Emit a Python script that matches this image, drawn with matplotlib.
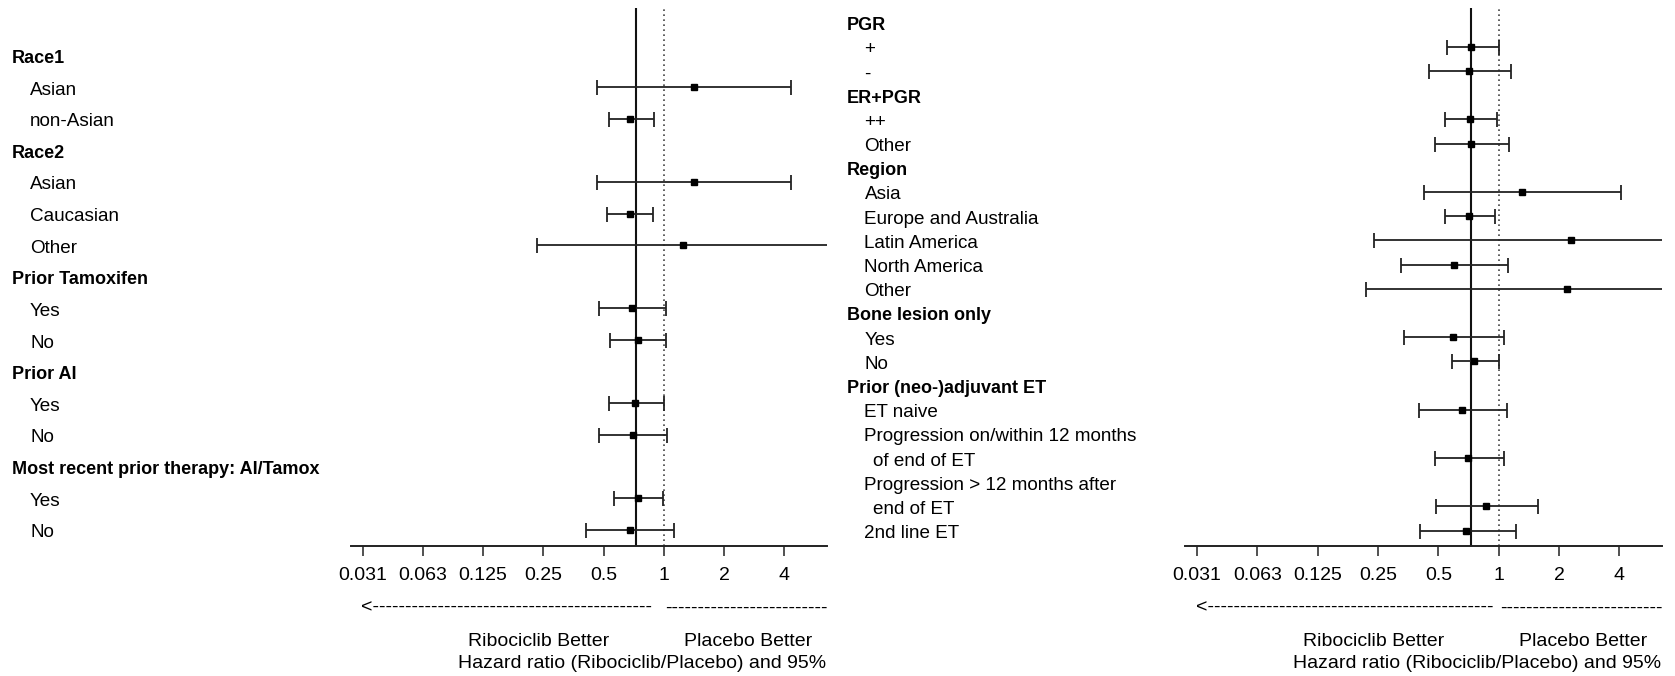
import numpy as np
import matplotlib
matplotlib.use("Agg")
import matplotlib.pyplot as plt
from matplotlib.transforms import blended_transform_factory, offset_copy

plt.rcParams['font.family'] = ['Liberation Sans', 'DejaVu Sans']

nan = np.nan

# ---------------- data ----------------
overall_hr = 0.725

left_labels = ["Race1", "Asian", "non-Asian", "Race2", "Asian", "Caucasian", "Other",
               "Prior Tamoxifen", "Yes", "No", "Prior AI", "Yes", "No",
               "Most recent prior therapy: AI/Tamox", "Yes", "No"]
left_level = [0, 1, 1, 0, 1, 1, 1, 0, 1, 1, 0, 1, 1, 0, 1, 1]
left_hr = [nan, 1.41, 0.681, nan, 1.41, 0.674, 1.25, nan, 0.692, 0.742, nan, 0.721, 0.700, nan, 0.742, 0.674]
left_lo = [nan, 0.465, 0.533, nan, 0.465, 0.523, 0.233, nan, 0.474, 0.539, nan, 0.533, 0.477, nan, 0.565, 0.408]
left_hi = [nan, 4.34, 0.891, nan, 4.34, 0.881, 8.0, nan, 1.02, 1.02, nan, 1.00, 1.04, nan, 0.99, 1.12]

right_labels = ["PGR", "+", "-", "ER+PGR", "++", "Other", "Region", "Asia",
                "Europe and Australia", "Latin America", "North America", "Other",
                "Bone lesion only", "Yes", "No", "Prior (neo-)adjuvant ET", "ET naive",
                "Progression on/within 12 months", "of end of ET",
                "Progression > 12 months after", "end of ET", "2nd line ET"]
right_level = [0, 1, 1, 0, 1, 1, 0, 1, 1, 1, 1, 1, 0, 1, 1, 0, 1, 1, 2, 1, 2, 1]
right_hr = [nan, 0.730, 0.713, nan, 0.721, 0.730, nan, 1.30, 0.713, 2.30, 0.600, 2.20,
            nan, 0.593, 0.755, nan, 0.658, nan, 0.705, nan, 0.867, 0.689]
right_lo = [nan, 0.552, 0.449, nan, 0.539, 0.481, nan, 0.424, 0.539, 0.239, 0.326, 0.218,
            nan, 0.337, 0.585, nan, 0.398, nan, 0.479, nan, 0.486, 0.403]
right_hi = [nan, 1.00, 1.148, nan, 0.984, 1.13, nan, 4.07, 0.955, 8.0, 1.117, 8.0,
            nan, 1.063, 1.00, nan, 1.10, nan, 1.059, nan, 1.577, 1.216]

tick_values = [2.0 ** k for k in range(-5, 3)]
tick_labels = ["0.031", "0.063", "0.125", "0.25", "0.5", "1", "2", "4"]

# ---------------- layout ----------------
W, H = 1675, 676
fig = plt.figure(figsize=(W / 100, H / 100), dpi=100)
renderer = fig.canvas.get_renderer()

ax_top, ax_bot = 8.0, 545.7
bottom = (H - ax_bot) / H
height = (ax_bot - ax_top) / H
xlim = (2 ** -5.197, 2 ** 2.703)
FS = 14          # axis text and captions
FS_LAB = 13.6    # subgroup labels
FS_BOLD = 13     # group headers


def text_width(s, fs):
    t = fig.text(0, 0, s, fontsize=fs)
    w = t.get_window_extent(renderer).width
    t.remove()
    return w


dash_w = text_width("-" * 40, FS) / 40.0
lt_w = text_width("<", FS)


def forest(ax_left_px, ax_right_px, hr, lo, hi, ylim):
    ax = fig.add_axes([ax_left_px / W, bottom, (ax_right_px - ax_left_px) / W, height])
    ax.set_xscale('log', base=2)
    ax.set_xlim(*xlim)
    ax.set_ylim(*ylim)
    for s in ['top', 'right', 'left']:
        ax.spines[s].set_visible(False)
    ax.spines['bottom'].set_linewidth(1.4)
    ax.spines['bottom'].set_color('#222222')
    ax.set_yticks([])
    ax.set_xticks(tick_values)
    ax.set_xticklabels(tick_labels, fontsize=FS)
    ax.minorticks_off()
    ax.tick_params(axis='x', direction='out', length=7, width=1.1, pad=8, color='#222222')

    ax.axvline(overall_hr, color='#111111', lw=1.5, zorder=1)
    ax.axvline(1.0, color='#444444', lw=1.2, ls=(0, (1, 2)), zorder=1)

    hr = np.asarray(hr)
    lo = np.asarray(lo)
    hi = np.asarray(hi)
    rows = np.arange(len(hr))
    m = ~np.isnan(hr)
    ax.errorbar(hr[m], rows[m], xerr=[hr[m] - lo[m], hi[m] - hr[m]], fmt='s',
                color='black', ecolor='#222222', ms=4, elinewidth=1.3,
                capsize=5.4, capthick=1.3, zorder=3)

    # direction arrows and captions beneath the axis
    tr = blended_transform_factory(ax.transData, ax.transAxes)
    span = ax_bot - ax_top
    yd = -(608.3 - ax_bot) / span
    y1 = -(641.0 - ax_bot) / span
    y2 = -(663.0 - ax_bot) / span

    px_per_oct = (ax_right_px - ax_left_px) / (np.log2(xlim[1]) - np.log2(xlim[0]))
    left_run = px_per_oct * (np.log2(0.905) - (-5.025))
    right_run = px_per_oct * (np.log2(xlim[1]) - 0.0216)
    n_left = int(round((left_run - lt_w) / dash_w))
    n_right = int(round(right_run / dash_w))
    fig.text(2 ** -5.025, yd, "<" + "-" * n_left, transform=tr, ha='left', va='center',
             fontsize=FS)
    fig.text(2 ** 0.0216, yd, "-" * n_right, transform=tr, ha='left', va='center',
             fontsize=FS)

    fig.text(2 ** -2.08, y1, "Ribociclib Better", transform=tr, ha='center', va='center', fontsize=FS)
    fig.text(2 ** 1.397, y1, "Placebo Better", transform=tr, ha='center', va='center', fontsize=FS)
    fig.text(2 ** -0.36, y2, "Hazard ratio (Ribociclib/Placebo) and 95%", transform=tr,
             ha='center', va='center', fontsize=FS)
    return ax


def label_column(x0_px, x1_px, labels, levels, indent_px, ylim):
    ax = fig.add_axes([x0_px / W, bottom, (x1_px - x0_px) / W, height])
    ax.set_xlim(0, x1_px - x0_px)
    ax.set_ylim(*ylim)
    ax.axis('off')
    tr = offset_copy(ax.transData, fig=fig, x=0, y=-3.0, units='dots')
    for i, (txt, lvl) in enumerate(zip(labels, levels)):
        ax.text(indent_px[lvl], i, txt, ha='left', va='center', transform=tr,
                fontsize=FS_BOLD if lvl == 0 else FS_LAB,
                fontweight='bold' if lvl == 0 else 'normal')
    return ax


# left panel (one empty row above the first group)
left_ylim = (len(left_labels) - 0.5, -1.5)
forest(350.7, 826.7, left_hr, left_lo, left_hi, left_ylim)
label_column(0, 350.7, left_labels, left_level, [12, 30, 34], left_ylim)

# right panel
right_ylim = (21.62, -0.6)
forest(1185.3, 1661.7, right_hr, right_lo, right_hi, right_ylim)
label_column(840, 1185.3, right_labels, right_level, [7, 24.5, 33.5], right_ylim)

fig.savefig("out.png", dpi=100)
